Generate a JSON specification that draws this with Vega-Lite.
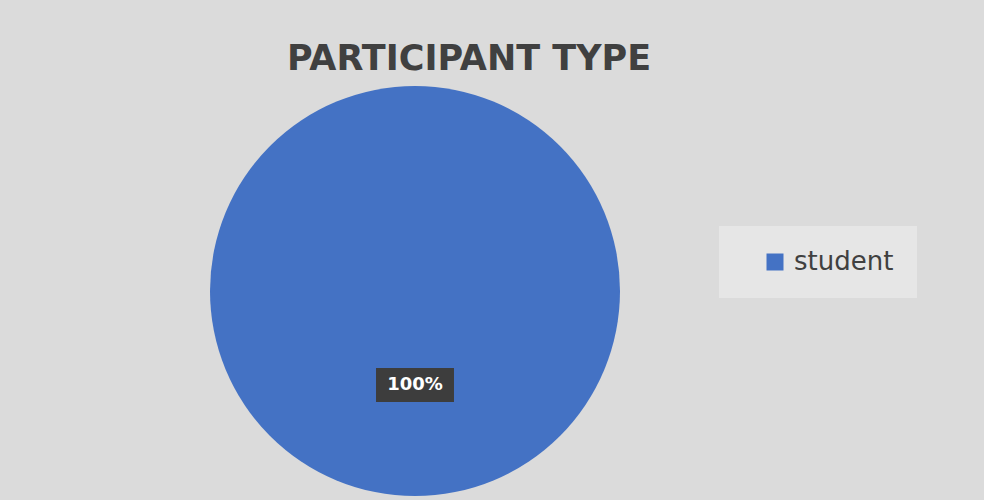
{
  "$schema": "https://vega.github.io/schema/vega-lite/v6.json",
  "width": 446,
  "height": 376,
  "autosize": {"type": "none"},
  "padding": {"left": 192, "top": 103, "right": 346, "bottom": 21},
  "background": "#dbdbdb",
  "title": {
    "text": "PARTICIPANT TYPE",
    "font": "DejaVu Sans",
    "fontSize": 35,
    "fontWeight": "bold",
    "color": "#404040",
    "anchor": "middle",
    "frame": "group",
    "dx": 54,
    "offset": 9
  },
  "data": {"values": [{"type": "student", "share": 1}]},
  "config": {"view": {"stroke": null}},
  "layer": [
    {
      "mark": {"type": "arc", "outerRadius": 205, "stroke": null},
      "encoding": {
        "theta": {"field": "share", "type": "quantitative", "stack": true},
        "color": {
          "field": "type",
          "type": "nominal",
          "scale": {"range": ["#4472c4"]},
          "legend": {
            "title": null,
            "orient": "none",
            "legendX": 527,
            "legendY": 123,
            "padding": 23,
            "fillColor": "#e6e6e6",
            "symbolType": "square",
            "symbolSize": 289,
            "symbolStrokeWidth": 0,
            "symbolOffset": 20,
            "labelFont": "DejaVu Sans",
            "labelFontSize": 26,
            "labelColor": "#404040",
            "labelOffset": 6
          }
        }
      }
    },
    {
      "mark": {"type": "point", "shape": "M-1.15,-0.5H1.15V0.5H-1.15Z", "size": 4597, "yOffset": 94, "filled": true, "color": "#3d3d3d", "opacity": 1, "strokeWidth": 0},
      "encoding": {}
    },
    {
      "mark": {"type": "text", "radius": 94, "font": "DejaVu Sans", "fontSize": 18, "fontWeight": "bold", "color": "white", "baseline": "middle", "align": "center"},
      "encoding": {
        "theta": {"field": "share", "type": "quantitative", "stack": true},
        "text": {"field": "share", "type": "quantitative", "format": ".0%"}
      }
    }
  ]
}
